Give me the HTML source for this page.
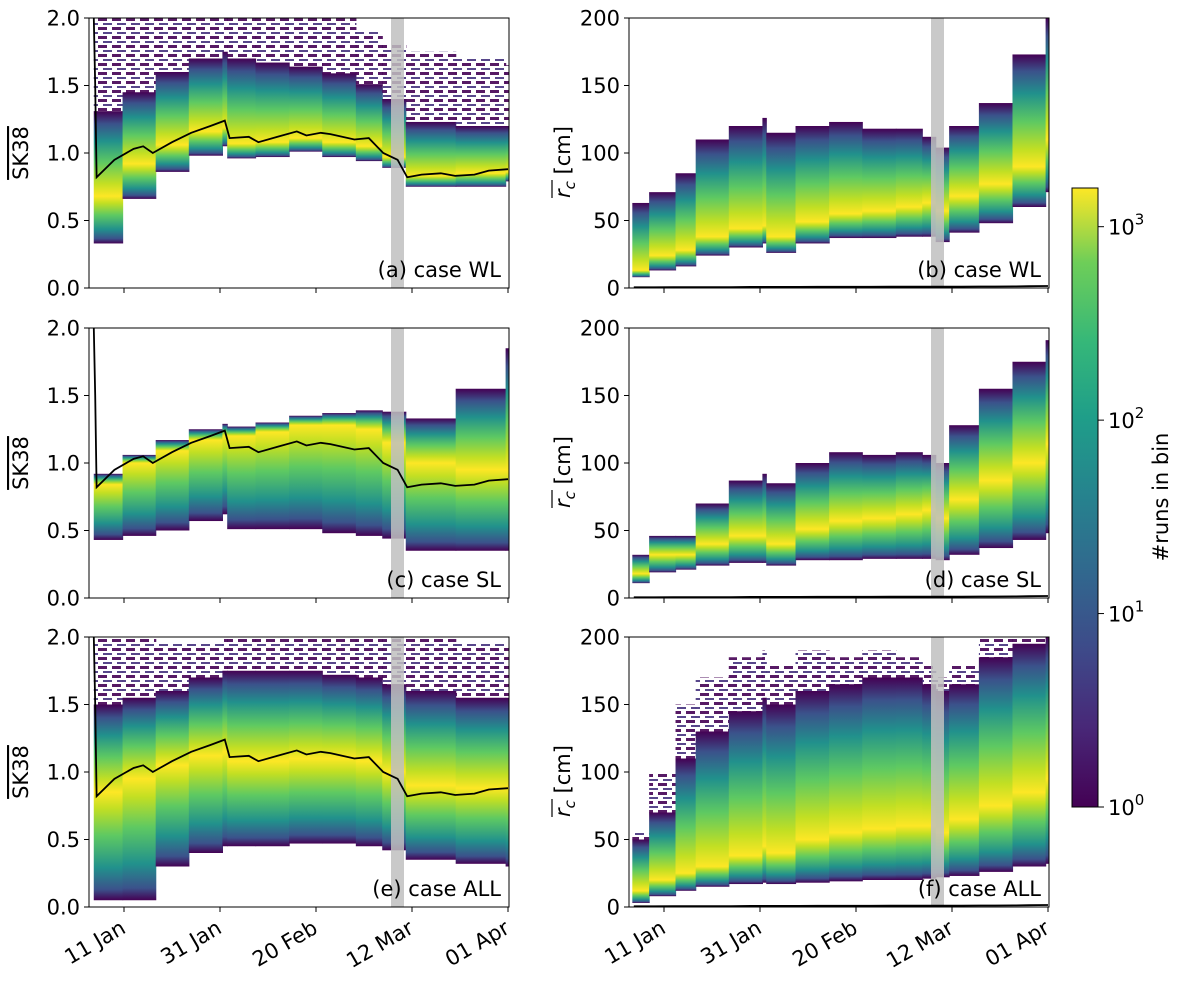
<!DOCTYPE html>
<html><head><meta charset="utf-8">
<style>
body{margin:0;background:#fff;}
svg{display:block;font-family:"DejaVu Sans","Liberation Sans",sans-serif;}
</style></head>
<body>
<svg id="fig" width="1179" height="981" viewBox="0 0 1179 981">
<defs>
<linearGradient id="cbar" x1="0" y1="1" x2="0" y2="0">
<stop offset="0" stop-color="#440154"/><stop offset="0.13" stop-color="#482878"/><stop offset="0.25" stop-color="#3e4989"/><stop offset="0.38" stop-color="#31688e"/><stop offset="0.5" stop-color="#26828e"/><stop offset="0.63" stop-color="#1f9e89"/><stop offset="0.75" stop-color="#35b779"/><stop offset="0.88" stop-color="#6ece58"/><stop offset="1" stop-color="#fde725"/>
</linearGradient>
<pattern id="sparse" width="14" height="9" patternUnits="userSpaceOnUse">
<rect x="0" y="0" width="9" height="3" fill="#440154"/>
<rect x="5" y="5" width="9" height="2" fill="#46337e"/>
</pattern>
</defs>
</svg>
<script>
// ---- data (day offset from 1 Jan) ----
const leftDays  = [3.7, 9.7, 16.6, 23.5, 30.5, 31.5, 37.4, 44.4, 51.3, 58.3, 63.8, 68.7, 79.1, 89.5];
const rightDays = [3.4, 6.9, 12.4, 16.6, 23.5, 30.5, 31.3, 37.4, 44.4, 51.3, 58.3, 63.8, 66.6, 69.4, 75.6, 82.6, 89.5];
// left panels: SK38
const wlLo   = [0.33, 0.66, 0.86, 0.98, 1.05, 0.96, 0.97, 1.01, 0.97, 0.94, 0.89, 0.75, 0.75, 0.79];
const wlCore = [0.68, 0.92, 1.06, 1.16, 1.19, 1.07, 1.08, 1.11, 1.08, 1.05, 0.97, 0.83, 0.85, 0.86];
const wlHi   = [1.31, 1.45, 1.60, 1.70, 1.75, 1.70, 1.67, 1.64, 1.59, 1.51, 1.40, 1.23, 1.20, 1.20];
const wlTop  = [2.00, 2.00, 2.00, 2.00, 2.00, 2.00, 2.00, 2.00, 2.00, 1.90, 1.80, 1.75, 1.70, 1.65];
const slLo   = [0.43, 0.46, 0.50, 0.57, 0.62, 0.51, 0.51, 0.51, 0.48, 0.46, 0.44, 0.35, 0.35, 0.35];
const slCore = [0.84, 1.00, 1.09, 1.17, 1.20, 1.20, 1.23, 1.28, 1.28, 1.25, 1.15, 1.00, 0.95, 0.95];
const slHi   = [0.92, 1.06, 1.17, 1.25, 1.29, 1.27, 1.30, 1.35, 1.37, 1.39, 1.38, 1.33, 1.55, 1.85];
const slTop  = [0.92, 1.06, 1.17, 1.25, 1.29, 1.27, 1.30, 1.35, 1.37, 1.39, 1.38, 1.33, 1.55, 1.85];
const alLo   = [0.05, 0.05, 0.30, 0.40, 0.45, 0.45, 0.45, 0.47, 0.47, 0.45, 0.42, 0.35, 0.32, 0.30];
const alCore = [0.85, 0.95, 1.05, 1.12, 1.15, 1.08, 1.08, 1.10, 1.10, 1.08, 1.00, 0.90, 0.88, 0.88];
const alHi   = [1.50, 1.55, 1.60, 1.70, 1.75, 1.75, 1.75, 1.75, 1.72, 1.70, 1.65, 1.60, 1.55, 1.55];
const alTop  = [2.00, 2.00, 1.95, 1.95, 2.00, 2.00, 2.00, 2.00, 2.00, 2.00, 2.00, 2.00, 1.95, 1.95];
// right panels: r_c [cm]
const rwLo   = [8, 13, 16, 24, 30, 33, 26, 33, 37, 37, 38, 38, 34, 41, 48, 60, 71];
const rwCore = [13, 24, 28, 38, 44, 46, 38, 49, 55, 57, 60, 63, 57, 68, 77, 90, 110];
const rwHi   = [63, 71, 85, 110, 120, 126, 115, 120, 123, 118, 118, 112, 104, 120, 137, 173, 200];
const rsLo   = [11, 19, 21, 24, 26, 26, 24, 28, 28, 29, 29, 29, 28, 32, 37, 43, 48];
const rsCore = [18, 32, 32, 40, 46, 46, 40, 51, 57, 59, 62, 65, 59, 73, 87, 100, 114];
const rsHi   = [32, 46, 46, 70, 87, 92, 85, 100, 108, 106, 108, 106, 100, 128, 155, 175, 191];
const raLo   = [3, 8, 12, 15, 17, 18, 17, 18, 19, 20, 20, 21, 22, 23, 26, 30, 32];
const raCore = [12, 20, 25, 30, 38, 45, 40, 50, 55, 58, 60, 60, 55, 65, 75, 85, 95];
const raHi   = [50, 70, 110, 130, 145, 155, 150, 160, 165, 170, 170, 165, 160, 165, 185, 195, 200];
const raTop  = [55, 100, 150, 170, 185, 190, 180, 190, 185, 190, 185, 180, 170, 180, 200, 200, 200];
// mean line
const meanDays = [3.7, 4.0, 4.3, 8, 12, 14, 16, 20, 24, 28, 31, 32, 36, 38, 42, 46, 48, 51, 53, 58, 61, 64, 67, 69, 72, 76, 79, 83, 86, 90];
const meanSK   = [2.0, 1.5, 0.82, 0.95, 1.03, 1.05, 1.0, 1.08, 1.15, 1.20, 1.24, 1.11, 1.12, 1.08, 1.12, 1.16, 1.13, 1.15, 1.14, 1.10, 1.11, 1.00, 0.95, 0.82, 0.84, 0.85, 0.83, 0.84, 0.87, 0.88];
const meanRc   = [0.5, 0.5, 0.5, 0.5, 0.6, 0.6, 0.6, 0.7, 0.7, 0.8, 0.8, 0.8, 0.8, 0.8, 0.9, 0.9, 0.9, 0.9, 0.9, 1.0, 1.0, 1.0, 1.0, 1.0, 1.0, 1.1, 1.1, 1.2, 1.3, 1.5];
const xTickLabels = ["11 Jan", "31 Jan", "20 Feb", "12 Mar", "01 Apr"];
const xTickDays = [10, 30, 50, 70, 90];
const leftTicks = [0, 0.5, 1.0, 1.5, 2.0];
const rightTicks = [0, 50, 100, 150, 200];
const cbarExps = [0, 1, 2, 3];

const NS = "http://www.w3.org/2000/svg";
const svg = document.getElementById("fig");
function mk(tag, attrs, parent) {
  const e = document.createElementNS(NS, tag);
  for (const k in attrs) e.setAttribute(k, attrs[k]);
  (parent || svg).appendChild(e);
  return e;
}
const defs = svg.querySelector("defs");
const D0 = 10 - 35 / 4.8;
const PXD = 4.8;
const colsX = [89, 629];
const rowsY = [18, 328, 637];
const W = 420, H = 270;
const FS = 21;
function xs(col, d) { return colsX[col] + (d - D0) * PXD; }
function ys(row, v, max) { return rowsY[row] + H - v / max * H; }

const panels = [
  {col:0,row:0,max:2,days:leftDays,lo:wlLo,core:wlCore,hi:wlHi,top:wlTop,label:"(a) case WL",name:"panel-a-wl"},
  {col:1,row:0,max:200,days:rightDays,lo:rwLo,core:rwCore,hi:rwHi,top:rwHi,label:"(b) case WL",name:"panel-b-wl"},
  {col:0,row:1,max:2,days:leftDays,lo:slLo,core:slCore,hi:slHi,top:slTop,label:"(c) case SL",name:"panel-c-sl"},
  {col:1,row:1,max:200,days:rightDays,lo:rsLo,core:rsCore,hi:rsHi,top:rsHi,label:"(d) case SL",name:"panel-d-sl"},
  {col:0,row:2,max:2,days:leftDays,lo:alLo,core:alCore,hi:alHi,top:alTop,label:"(e) case ALL",name:"panel-e-all"},
  {col:1,row:2,max:200,days:rightDays,lo:raLo,core:raCore,hi:raHi,top:raTop,label:"(f) case ALL",name:"panel-f-all"}
];
const aboveStops = [[0,"#fde725"],[0.15,"#c2df23"],[0.4,"#5ec962"],[0.65,"#21918c"],[0.85,"#3b528b"],[1,"#440154"]];
const belowStops = [[0,"#fde725"],[0.15,"#c2df23"],[0.4,"#5ec962"],[0.7,"#21918c"],[0.9,"#3b528b"],[1,"#440154"]];
let gid = 0;
panels.forEach(p => {
  const g = mk("g", {});
  
  
  const clipId = "clip" + gid;
  const cp = mk("clipPath", {id: clipId}, defs);
  mk("rect", {x: colsX[p.col], y: rowsY[p.row], width: W, height: H}, cp);
  const hm = mk("g", {"clip-path": "url(#" + clipId + ")"}, g);
  
  
  const n = p.days.length;
  for (let i = 0; i < n; i++) {
    const d1 = p.days[i];
    const d2 = i < n - 1 ? p.days[i + 1] : 92;
    const x = xs(p.col, d1), w = (d2 - d1) * PXD + 0.6;
    const yTopS = ys(p.row, p.top[i], p.max), yTop = ys(p.row, p.hi[i], p.max);
    if (yTop - yTopS > 1) {
      const s = mk("rect", {x: x, y: yTopS, width: w, height: yTop - yTopS + 1, fill: "url(#sparse)", opacity: 0.9}, hm);
      
      
    }
    const yBot = ys(p.row, p.lo[i], p.max), yC = ys(p.row, p.core[i], p.max);
    const id = "g" + (gid++);
    const lg = mk("linearGradient", {id: id, x1: 0, y1: 0, x2: 0, y2: 1}, defs);
    const span = Math.max(yBot - yTop, 1);
    const fc = (yC - yTop) / span;
    aboveStops.slice().reverse().forEach(s => mk("stop", {offset: (fc * (1 - s[0])).toFixed(3), "stop-color": s[1]}, lg));
    belowStops.forEach(s => mk("stop", {offset: (fc + (1 - fc) * s[0]).toFixed(3), "stop-color": s[1]}, lg));
    const r = mk("rect", {x: x, y: yTop, width: w, height: span, fill: "url(#" + id + ")"}, hm);
    
    
  }
  const band = mk("rect", {x: colsX[p.col] + 302, y: rowsY[p.row], width: 13, height: H, fill: "#bfbfbf", opacity: 0.85}, g);
  
  
  const vals = p.col === 0 ? meanSK : meanRc;
  const pts = meanDays.map((d, i) => xs(p.col, d).toFixed(1) + "," + ys(p.row, vals[i], p.max).toFixed(1)).join(" ");
  const ln = mk("polyline", {points: pts, fill: "none", stroke: "#000", "stroke-width": 1.8, "clip-path": "url(#" + clipId + ")"}, g);
  
  
  mk("rect", {x: colsX[p.col], y: rowsY[p.row], width: W, height: H, fill: "none", stroke: "#000", "stroke-width": 1}, g);
  const ticks = p.col === 0 ? leftTicks : rightTicks;
  ticks.forEach(t => {
    const y = ys(p.row, t, p.max);
    mk("line", {x1: colsX[p.col] - 5, x2: colsX[p.col], y1: y, y2: y, stroke: "#000"}, g);
    const tx = mk("text", {x: colsX[p.col] - 9, y: y + 7.5, "text-anchor": "end", "font-size": FS}, g);
    tx.textContent = p.col === 0 ? t.toFixed(1) : String(t);
    
    
  });
  xTickDays.forEach((d, i) => {
    const x = xs(p.col, d), yb = rowsY[p.row] + H;
    mk("line", {x1: x, x2: x, y1: yb, y2: yb + 5, stroke: "#000"}, g);
    if (p.row === 2) {
      const tx = mk("text", {x: x + 3, y: yb + 25, "text-anchor": "end", "font-size": FS, transform: "rotate(-30 " + (x + 3) + " " + (yb + 25) + ")"}, g);
      tx.textContent = xTickLabels[i];
      
      
    }
  });
  const lb = mk("text", {x: colsX[p.col] + W - 8, y: rowsY[p.row] + H - 11, "text-anchor": "end", "font-size": FS}, g);
  lb.textContent = p.label;
  
  
  const cx = p.col === 0 ? 28 : 570, cy = rowsY[p.row] + 135;
  const tg = mk("g", {transform: "translate(" + cx + " " + cy + ") rotate(-90)"}, g);
  
  
  if (p.col === 0) {
    const yt = mk("text", {x: 0, y: 0, "text-anchor": "middle", "font-size": FS, "text-decoration": "overline"}, tg);
    yt.textContent = "SK38";
  } else {
    const yt = mk("text", {x: -45, y: 0, "font-size": FS}, tg);
    const r = mk("tspan", {"font-style": "italic"}, yt); r.textContent = "r";
    const s = mk("tspan", {"font-size": 15, dy: 5, "font-style": "italic"}, yt); s.textContent = "c";
    const s2 = mk("tspan", {dy: -5}, yt); s2.textContent = " [cm]";
    mk("line", {x1: -45, x2: -27, y1: -18, y2: -18, stroke: "#000", "stroke-width": 1.2}, tg);
  }
});

const cb = mk("g", {});


const cbTop = 188, cbBot = 807, cbX = 1072, cbW = 26;
mk("rect", {x: cbX, y: cbTop, width: cbW, height: cbBot - cbTop, fill: "url(#cbar)", stroke: "#000", "stroke-width": 1}, cb);
const decade = (cbBot - cbTop) / 3.2;
cbarExps.forEach(e => {
  const y = cbBot - e * decade;
  mk("line", {x1: cbX + cbW, x2: cbX + cbW + 6, y1: y, y2: y, stroke: "#000"}, cb);
  const t = mk("text", {x: cbX + cbW + 10, y: y + 8, "font-size": FS}, cb);
  t.textContent = "10";
  const s = mk("tspan", {"font-size": 15, dy: -10}, t); s.textContent = String(e);
  
  
});
const ct = mk("text", {x: 1168, y: 497, "text-anchor": "middle", "font-size": FS, transform: "rotate(-90 1168 497)"}, cb);
ct.textContent = "#runs in bin";


</script>
</body></html>
